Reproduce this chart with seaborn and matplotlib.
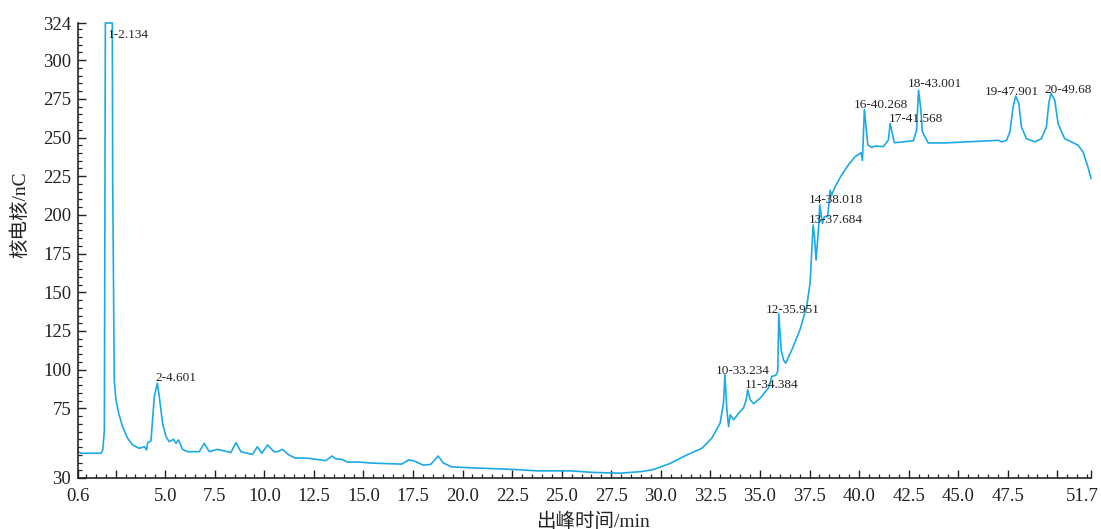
import matplotlib
matplotlib.use("Agg")
import matplotlib.pyplot as plt
from matplotlib.ticker import MultipleLocator, FixedLocator
from matplotlib.transforms import ScaledTranslation
import numpy as np
import pandas as pd
import seaborn as sns

# Ion chromatogram trace: retention time (min) and detector charge (nC)
time_min = [
    0.60, 0.75, 1.76, 1.85, 1.93, 1.98, 2.134, 2.33, 2.35, 2.43, 2.52, 2.65,
    2.85, 3.10, 3.36, 3.69, 3.95, 4.06, 4.11, 4.28, 4.45, 4.601, 4.70, 4.87,
    5.04, 5.20, 5.42, 5.54, 5.67, 5.87, 6.13, 6.72, 6.97, 7.22, 7.64, 8.14,
    8.31, 8.57, 8.82, 9.40, 9.65, 9.87, 10.16, 10.49, 10.66, 10.91, 11.25,
    11.59, 11.75, 12.26, 13.09, 13.42, 13.60, 13.92, 14.19, 14.77, 15.44,
    16.94, 17.27, 17.52, 18.02, 18.39, 18.77, 19.02, 19.44, 20.44, 22.62,
    23.79, 25.45, 26.62, 27.96, 29.05, 29.63, 30.47, 31.30, 32.07, 32.57,
    32.99, 33.16, 33.234, 33.33, 33.42, 33.50, 33.67, 34.00, 34.17, 34.30,
    34.384, 34.51, 34.68, 35.02, 35.43, 35.60, 35.80, 35.90, 35.951, 36.07,
    36.19, 36.30, 36.61, 37.02, 37.36, 37.53, 37.684, 37.75, 37.83, 37.95,
    38.018, 38.15, 38.25, 38.42, 38.54, 38.62, 38.79, 39.12, 39.46, 39.79,
    40.10, 40.17, 40.268, 40.44, 40.64, 40.81, 41.22, 41.48, 41.568, 41.78,
    42.74, 42.90, 43.001, 43.12, 43.19, 43.49, 44.33, 47.02, 47.19, 47.44,
    47.61, 47.77, 47.901, 48.06, 48.19, 48.44, 48.87, 49.20, 49.45, 49.57,
    49.68, 49.87, 50.04, 50.37, 50.71, 51.05, 51.30, 51.55, 51.70,
]
charge_nc = [
    47.0, 46.0, 46.0, 48.1, 61.0, 324.0, 324.0, 324.0, 222.5, 93.0, 80.0, 72.0,
    63.0, 55.7, 51.3, 49.2, 50.2, 48.1, 52.8, 53.9, 82.6, 91.3, 82.6, 65.0,
    56.7, 53.5, 55.0, 52.4, 54.6, 48.5, 47.0, 47.0, 52.4, 47.0, 48.5, 47.0,
    46.4, 52.8, 47.0, 45.2, 50.2, 45.9, 51.3, 47.0, 47.0, 48.5, 44.8,
    42.7, 43.0, 42.7, 41.2, 44.2, 42.4, 42.0, 40.3, 40.3, 39.6,
    39.0, 41.6, 41.2, 38.3, 38.8, 44.2, 39.8, 37.2, 36.6, 35.5,
    34.6, 34.6, 33.6, 33.1, 34.2, 35.5, 39.4, 44.8, 49.2, 55.7,
    65.4, 78.4, 96.8, 74.1, 63.2, 70.8, 67.6, 73.0, 75.2, 80.2,
    87.0, 80.6, 78.0, 81.7, 88.2, 95.7, 96.3, 99.0, 136.2, 112.8,
    106.3, 104.2, 112.8, 125.8, 140.9, 156.0, 193.5, 186.0, 170.8, 190.2,
    206.5, 194.5, 198.9, 198.9, 216.0, 212.8, 218.2, 225.8, 232.3, 237.5,
    240.2, 235.2, 268.1, 245.2, 243.6, 244.5, 244.1, 248.4, 259.1, 246.6,
    247.9, 254.8, 280.6, 267.7, 253.7, 246.5, 246.5, 248.2, 247.2, 248.2,
    253.7, 269.8, 276.8, 272.0, 256.8, 249.3, 247.2, 249.3, 256.8, 272.0,
    278.5, 274.2, 259.0, 249.3, 247.2, 245.0, 240.6, 230.9, 223.5,
]

# Numbered peaks: retention times as printed next to each peak
peak_labels = ["1-2.134", "2-4.601", "10-33.234", "11-34.384", "12-35.951",
               "13-37.684", "14-38.018", "16-40.268", "17-41.568", "18-43.001",
               "19-47.901", "20-49.68"]
peak_times = [2.134, 4.601, 33.234, 34.384, 35.951, 37.684, 38.018, 40.268,
              41.568, 43.001, 47.901, 49.68]

x_ticks = [0.6, 2.5, 5.0, 7.5, 10.0, 12.5, 15.0, 17.5, 20.0, 22.5, 25.0, 27.5,
           30.0, 32.5, 35.0, 37.5, 40.0, 42.5, 45.0, 47.5, 50.0, 51.7]
x_tick_labels = ["0.6", "", "5.0", "7.5", "10.0", "12.5", "15.0", "17.5", "20.0",
                 "22.5", "25.0", "27.5", "30.0", "32.5", "35.0", "37.5", "40.0",
                 "42.5", "45.0", "47.5", "", "51.7"]
y_ticks = [30, 75, 100, 125, 150, 175, 200, 225, 250, 275, 300, 324]

# label placement relative to each peak apex, in pixels (dx, dy)
label_offsets_px = [(-1, -15), (-2, 2), (-9, 1), (-3, 2), (-13, 1), (-4, 2),
                    (-11, 2), (-11, 2), (-1, 1), (-11, 3), (-31, 1), (-7, 0)]

sns.set_theme(style="ticks")
plt.rcParams["font.family"] = ["Liberation Serif", "Noto Sans CJK SC"]
plt.rcParams["axes.unicode_minus"] = False

DPI = 100
fig = plt.figure(figsize=(11.01, 5.29), dpi=DPI)
ax = fig.add_axes([78 / 1101, 1 - 478 / 529, (1091 - 78) / 1101, (478 - 23) / 529])

df = pd.DataFrame({"time": time_min, "charge": charge_nc})
sns.lineplot(data=df, x="time", y="charge", ax=ax, estimator=None, sort=False,
             color="#1CA9E6", linewidth=1.2)
for ln in ax.lines:
    ln.set_clip_on(False)

ax.set_xlim(0.6, 51.7)
ax.set_ylim(30, 324)

ax.xaxis.set_major_locator(FixedLocator(x_ticks))
ax.set_xticklabels(x_tick_labels)
ax.xaxis.set_minor_locator(MultipleLocator(0.5))
ax.yaxis.set_major_locator(FixedLocator(y_ticks))
ax.set_yticklabels([str(v) for v in y_ticks])
ax.yaxis.set_minor_locator(FixedLocator(np.arange(35, 324, 5)))

ax.tick_params(axis="both", which="major", direction="in", length=5.5, width=1.0,
               color="#222222", labelsize=13.5, labelcolor="#222222")
ax.tick_params(axis="both", which="minor", direction="in", length=3, width=0.9,
               color="#222222")
ax.tick_params(axis="x", which="major", pad=7.5)
ax.tick_params(axis="y", which="major", pad=5)

# keep the last time label inside the canvas
last_label = ax.get_xticklabels()[-1]
last_label.set_transform(last_label.get_transform()
                         + ScaledTranslation(-9 / DPI, 0, fig.dpi_scale_trans))

for side in ("top", "right"):
    ax.spines[side].set_visible(False)
for side in ("left", "bottom"):
    ax.spines[side].set_color("#222222")
    ax.spines[side].set_linewidth(1.2)

ax.set_xlabel("出峰时间/min", fontsize=14, color="#222222")
ax.set_ylabel("核电核/nC", fontsize=14, color="#222222")
ax.xaxis.set_label_coords(0.509, -0.076)
ax.yaxis.set_label_coords(-0.048, 0.578)

lookup = dict(zip(time_min, charge_nc))
px_to_pt = 72.0 / DPI
for text, t, (dx, dy) in zip(peak_labels, peak_times, label_offsets_px):
    v = min(lookup[t], 324.0)
    ax.annotate(text, xy=(t, v), xytext=(dx * px_to_pt, dy * px_to_pt),
                textcoords="offset points", ha="left", va="baseline",
                fontsize=9.5, color="#222222")

fig.savefig("out.png", dpi=DPI)
